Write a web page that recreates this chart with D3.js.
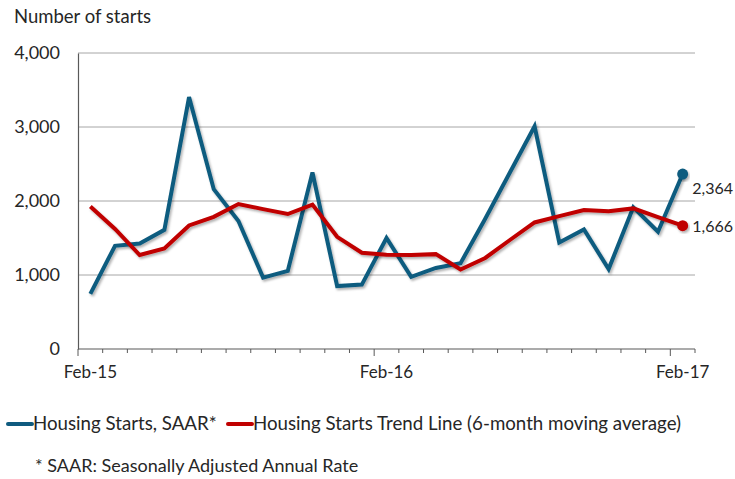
<!DOCTYPE html>
<html>
<head>
<meta charset="utf-8">
<script src="https://cdn.jsdelivr.net/npm/d3@7"></script>
<style>
  body { margin: 0; background: #fff; }
  svg { display: block; font-family: Lato, "Open Sans", sans-serif; }
</style>
</head>
<body>
<div id="chart"></div>
<script>
// Chart size, same as the window.
var width = 735;
var height = 479;

// Plot area.
var m = { left: 78, right: 40, top: 53, bottom: 130 };

// Months, Feb-15 .. Feb-17
var months = ["Feb-15", "Mar-15", "Apr-15", "May-15", "Jun-15", "Jul-15", "Aug-15",
  "Sep-15", "Oct-15", "Nov-15", "Dec-15", "Jan-16", "Feb-16", "Mar-16", "Apr-16",
  "May-16", "Jun-16", "Jul-16", "Aug-16", "Sep-16", "Oct-16", "Nov-16", "Dec-16",
  "Jan-17", "Feb-17"];

// Housing starts, SAAR
var starts = [745, 1395, 1425, 1610, 3405, 2160, 1730, 965, 1055, 2385, 850, 870,
  1500, 975, 1095, 1160, 1760, 2385, 3010, 1440, 1615, 1080, 1915, 1585, 2364];

// 6-month moving average trend
var trend = [1925, 1622, 1270, 1360, 1670, 1786, 1959, 1890, 1824, 1952, 1516, 1300,
  1275, 1270, 1282, 1075, 1230, 1473, 1710, 1795, 1878, 1862, 1900, 1782, 1666];

var yTicks = [0, 1000, 2000, 3000, 4000];
var xLabels = ["Feb-15", "Feb-16", "Feb-17"];

var blue = "#0f5b7f";
var red = "#c00000";

var svg = d3.select("#chart").append("svg")
  .attr("width", width)
  .attr("height", height);

// soft shadow under the lines
var filter = svg.append("defs").append("filter")
  .attr("id", "shadow")
  .attr("x", "-10%").attr("y", "-10%")
  .attr("width", "120%").attr("height", "130%");
filter.append("feDropShadow")
  .attr("dx", 1.5).attr("dy", 2)
  .attr("stdDeviation", 1.2)
  .attr("flood-color", "#000")
  .attr("flood-opacity", 0.3);

var x = d3.scaleBand()
  .domain(months)
  .range([m.left, width - m.right])
  .padding(0);

var y = d3.scaleLinear()
  .domain([0, 4000])
  .range([height - m.bottom, m.top]);

var cx = d => x(d) + x.bandwidth() / 2;

// Gridlines
svg.append("g")
  .selectAll("line")
  .data(yTicks.slice(1))
  .enter().append("line")
  .attr("x1", m.left)
  .attr("x2", width - m.right)
  .attr("y1", d => y(d))
  .attr("y2", d => y(d))
  .attr("stroke", "#a6a6a6")
  .attr("stroke-width", 1);

// Y axis
var yAxis = svg.append("g")
  .attr("transform", "translate(" + m.left + ",0)")
  .call(d3.axisLeft(y).tickValues(yTicks).tickSize(0).tickPadding(18)
    .tickFormat(d3.format(",")));
yAxis.select(".domain").attr("stroke", "#595959").attr("stroke-width", 1.2);
yAxis.selectAll("text")
  .attr("font-size", 18)
  .attr("fill", "#262626")
  .attr("font-family", "Lato, sans-serif");

// X axis: minor ticks on every month boundary, longer ones each year
var bounds = d3.range(months.length + 1);
var xb = i => m.left + i * x.bandwidth();
var xAxis = svg.append("g");
xAxis.append("line")
  .attr("x1", m.left).attr("x2", width - m.right)
  .attr("y1", y(0)).attr("y2", y(0))
  .attr("stroke", "#595959").attr("stroke-width", 1.2);
xAxis.selectAll("line.tick")
  .data(bounds)
  .enter().append("line")
  .attr("class", "tick")
  .attr("x1", d => xb(d)).attr("x2", d => xb(d))
  .attr("y1", y(0))
  .attr("y2", d => y(0) + (d % 12 === 0 ? 7 : 4))
  .attr("stroke", "#595959").attr("stroke-width", 1);
xAxis.selectAll("text")
  .data(xLabels)
  .enter().append("text")
  .attr("x", d => cx(d))
  .attr("y", y(0) + 29)
  .attr("text-anchor", "middle")
  .attr("font-size", 17)
  .attr("fill", "#262626")
  .text(d => d);

// Axis title
svg.append("text")
  .attr("x", 14)
  .attr("y", 23)
  .attr("font-size", 18.5)
  .attr("fill", "#262626")
  .text("Number of starts");

// Lines
var line = d3.line()
  .x((d, i) => cx(months[i]))
  .y(d => y(d));

svg.append("path")
  .datum(starts)
  .attr("d", line)
  .attr("fill", "none")
  .attr("stroke", blue)
  .attr("stroke-width", 4)
  .attr("stroke-linejoin", "miter")
  .attr("filter", "url(#shadow)");

svg.append("path")
  .datum(trend)
  .attr("d", line)
  .attr("fill", "none")
  .attr("stroke", red)
  .attr("stroke-width", 4)
  .attr("stroke-linejoin", "miter")
  .attr("filter", "url(#shadow)");

// End markers and labels (label right-aligned near the edge, dy from the marker)
var last = months.length - 1;
[[starts, blue, 20], [trend, red, 6]].forEach(function(s) {
  var v = s[0][last];
  svg.append("circle")
    .attr("cx", cx(months[last]))
    .attr("cy", y(v))
    .attr("r", 5.5)
    .attr("fill", s[1])
    .attr("filter", "url(#shadow)");
  svg.append("text")
    .attr("x", width - 2)
    .attr("y", y(v) + s[2])
    .attr("text-anchor", "end")
    .attr("font-size", 16)
    .attr("fill", "#262626")
    .text(d3.format(",")(v));
});

// Legend
var legend = [
  { name: "Housing Starts, SAAR*", color: blue, x: 8 },
  { name: "Housing Starts Trend Line (6-month moving average)", color: red, x: 228 }
];
var lg = svg.append("g").selectAll("g")
  .data(legend)
  .enter().append("g")
  .attr("transform", d => "translate(" + d.x + ",424)");
lg.append("line")
  .attr("x1", 0).attr("x2", 24)
  .attr("stroke", d => d.color)
  .attr("stroke-width", 4)
  .attr("stroke-linecap", "round");
lg.append("text")
  .attr("x", 25)
  .attr("y", 6)
  .attr("font-size", 18.7)
  .attr("fill", "#262626")
  .text(d => d.name);

svg.append("text")
  .attr("x", 35)
  .attr("y", 472)
  .attr("font-size", 18)
  .attr("fill", "#262626")
  .text("* SAAR: Seasonally Adjusted Annual Rate");
</script>
</body>
</html>
